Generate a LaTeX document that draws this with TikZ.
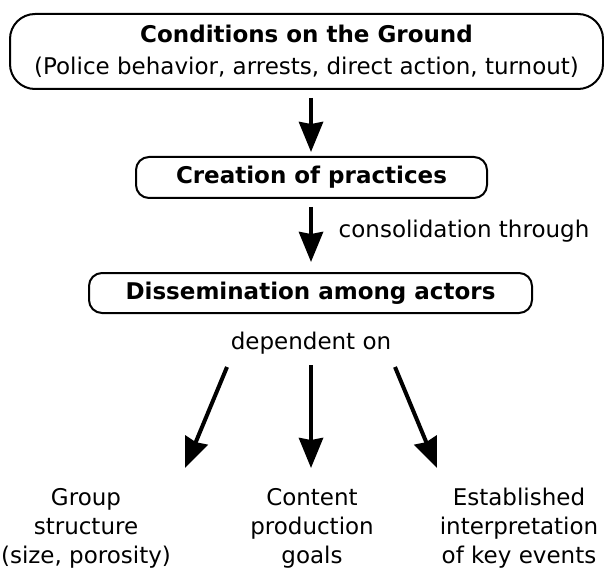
\documentclass[tikz,border=0pt]{standalone}
\usepackage{fontspec}
\setmainfont{DejaVu Sans}
\usetikzlibrary{arrows.meta}
\begin{document}
\begin{tikzpicture}[x=1pt,y=-1pt,
  every node/.style={font=\fontsize{23}{31}\selectfont, inner sep=0pt},
  rbox/.style={draw, line width=2pt, rounded corners=#1},
  arr/.style={line width=4pt, -{Stealth[length=30pt,width=24pt,inset=2pt]}},
  leaf/.style={align=center, font=\fontsize{23}{29}\selectfont}]
\useasboundingbox (0,0) rectangle (604,569);
\node[rbox=25pt, minimum width=593pt, minimum height=75pt] (ground) at (306.5,51.5) {};
\node[align=center, font=\fontsize{23}{32}\selectfont] (groundtxt) at (306.5,51.5) {\textbf{Conditions on the Ground}\\(Police behavior, arrests, direct action, turnout)};
\node[rbox=13pt, minimum width=351pt, minimum height=41pt, font=\fontsize{23}{31}\selectfont\bfseries] (create) at (311.5,177.5) {Creation of practices};
\node[rbox=13pt, minimum width=443pt, minimum height=40pt, font=\fontsize{23}{31}\selectfont\bfseries] (dissem) at (310.5,293) {Dissemination among actors};
\node (consol) at (464,231) {consolidation through};
\node (dep) at (311,343) {dependent on};
\node[leaf] (group) at (86,528) {Group\\structure\\(size, porosity)};
\node[leaf] (content) at (312,528) {Content\\production\\goals};
\node[leaf] (estab) at (519,528) {Established\\interpretation\\of key events};
\coordinate (a1s) at (311,98);
\coordinate (a1e) at (311,152);
\coordinate (a2s) at (311,207);
\coordinate (a2e) at (311,262);
\coordinate (l1) at (227,367);
\coordinate (l2) at (185,468);
\coordinate (m1) at (311,365);
\coordinate (m2) at (311,468);
\coordinate (r1) at (395,367);
\coordinate (r2) at (437,468);
\draw[arr] (a1s) -- (a1e);
\draw[arr] (a2s) -- (a2e);
\draw[arr] (l1) -- (l2);
\draw[arr] (m1) -- (m2);
\draw[arr] (r1) -- (r2);
\end{tikzpicture}
\end{document}
